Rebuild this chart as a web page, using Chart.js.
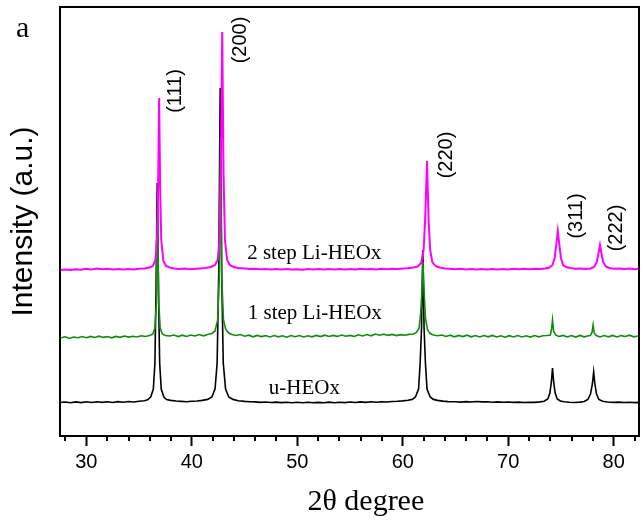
<!DOCTYPE html>
<html>
<head>
<meta charset="utf-8">
<script src="https://cdn.jsdelivr.net/npm/chart.js@4.4.1/dist/chart.umd.min.js"></script>
<style>
  html, body { margin: 0; padding: 0; background: #fff; }
</style>
</head>
<body>
<canvas id="xrd" width="641" height="522"></canvas>
<script>
// [2theta, intensity above own baseline]
var uHEOx = [
  [27.5,0.5],[28,1],[28.5,0.2],[29,1.1],[29.5,0.4],[30,1.2],[30.5,0.5],[31,1.3],[31.5,0.6],[32,1.2],
  [32.5,0.5],[33,1.4],[33.5,0.8],[34,1.5],[34.5,1],[35,1.8],[35.5,2.3],[35.8,3.2],[36.1,6],[36.35,14],
  [36.5,40],[36.6,110],[36.72,220],[36.84,110],[36.95,40],[37.1,14],[37.35,6],[37.6,3.5],[38,2.6],[38.5,2],
  [39,1.6],[39.5,1.3],[40,1.7],[40.5,2],[41,2.6],[41.5,3.6],[41.9,6],[42.2,14],[42.4,40],[42.55,130],
  [42.69,315],[42.83,130],[42.98,40],[43.2,14],[43.5,6],[43.9,3.6],[44.4,2.3],[45,1.6],[45.5,1.2],[46,1.1],
  [46.5,0.6],[47,1],[47.5,0.5],[48,0.9],[48.5,0.4],[49,0.8],[49.5,0.3],[50,0.8],[50.5,0.2],[51,0.7],
  [51.5,0.2],[52,0.6],[52.5,0.3],[53,0.9],[53.5,0.3],[54,0.8],[54.5,0.4],[55,1],[55.5,0.5],[56,1.1],
  [56.5,0.6],[57,1.2],[57.5,0.7],[58,1.3],[58.5,1],[59,1.5],[59.5,1.7],[60,2.1],[60.5,2.7],[60.9,3.6],
  [61.2,6],[61.5,14],[61.65,40],[61.78,75],[61.9,153],[62.02,75],[62.15,40],[62.3,14],[62.6,6],[62.9,3.6],
  [63.3,2.6],[63.8,1.9],[64.3,1.4],[65,1.2],[65.5,0.9],[66,1.4],[66.5,1],[67,1.5],[67.5,1.1],[68,1.3],
  [68.5,0.8],[69,1.1],[69.5,0.7],[70,1],[70.5,0.6],[71,0.9],[71.5,0.5],[72,0.8],[72.5,0.6],[73,1.1],
  [73.4,1.8],[73.75,4],[73.95,10],[74.1,22],[74.2,35],[74.3,22],[74.45,10],[74.65,4],[74.95,2],[75.3,1.3],
  [75.8,0.8],[76.3,0.5],[76.8,0.9],[77.2,1.5],[77.55,3.5],[77.8,9],[77.98,19],[78.1,31],[78.22,19],[78.37,9],
  [78.6,3.5],[78.95,1.7],[79.4,1],[80,0.6],[80.5,0.9],[81,0.5],[81.5,0.8],[82,0.4],[82.4,0.6]
];
var step1 = [
  [27.5,0],[28,1.2],[28.4,-0.5],[28.8,1],[29.2,0.2],[29.6,1.5],[30,0.3],[30.4,1.6],[30.8,0.5],[31.2,1.8],
  [31.6,0.6],[32,1.4],[32.4,0.2],[32.8,1.6],[33.2,0.7],[33.6,2],[34,0.9],[34.4,1.8],[34.8,1],[35.2,2.2],
  [35.6,1.5],[36,2.5],[36.3,4],[36.5,10],[36.64,35],[36.75,130],[36.86,35],[37,10],[37.2,4],[37.5,2.5],
  [37.9,2],[38.3,3],[38.7,1.4],[39.1,2.8],[39.5,1.5],[39.9,3],[40.3,2],[40.7,3.5],[41.1,2.2],[41.5,3.5],
  [41.9,4.5],[42.2,7],[42.45,18],[42.6,60],[42.72,200],[42.84,60],[43,18],[43.2,9],[43.5,5],[43.8,3.5],
  [44.2,2.5],[44.6,3.5],[45,1.8],[45.4,2.8],[45.8,1.2],[46.2,2.6],[46.6,1.4],[47,2.4],[47.4,1],[47.8,2.5],
  [48.2,1.2],[48.6,2.2],[49,0.8],[49.4,2.4],[49.8,1.3],[50.2,2.5],[50.6,1],[51,2.2],[51.4,1.2],[51.8,2.6],
  [52.2,1.4],[52.6,2.8],[53,1.5],[53.4,2.6],[53.8,1.6],[54.2,3],[54.6,1.8],[55,2.6],[55.4,1.5],[55.8,3.2],
  [56.2,2],[56.6,3.4],[57,2.2],[57.4,4],[57.8,2.8],[58.2,3.8],[58.6,2.6],[59,3.6],[59.4,2.4],[59.8,3.4],
  [60.2,2.8],[60.6,3.6],[61,4],[61.3,5.5],[61.55,10],[61.7,25],[61.81,45],[61.92,76],[62.03,45],[62.15,20],
  [62.35,8],[62.6,4.5],[62.9,3],[63.3,2.2],[63.7,3],[64.1,1.6],[64.5,2.8],[64.9,1.2],[65.3,2.6],[65.7,1.4],
  [66.1,2.8],[66.5,1.2],[66.9,2.5],[67.3,1],[67.7,2.4],[68.1,1.2],[68.5,2.6],[68.9,1],[69.3,2.2],[69.7,0.8],
  [70.1,2.3],[70.5,1],[70.9,2.5],[71.3,1.1],[71.7,2.2],[72.1,0.9],[72.5,2.4],[72.9,1.2],[73.3,2.3],[73.7,2.5],
  [74,3],[74.1,8],[74.2,18],[74.3,7],[74.5,3],[74.8,1.5],[75.2,2.6],[75.6,1],[76,2.4],[76.4,0.9],
  [76.8,2.6],[77.2,1.2],[77.6,2.2],[77.8,2.5],[77.95,6],[78.05,13],[78.15,5],[78.35,2.5],[78.7,1],[79.1,2.4],
  [79.5,1.2],[79.9,2.6],[80.3,1],[80.7,2.4],[81.1,1.5],[81.5,2.8],[81.9,1.2],[82.4,2.2]
];
var step2 = [
  [27.5,0],[28,0.6],[28.5,0.1],[29,0.8],[29.5,0.3],[30,1.2],[30.5,0.6],[31,1.4],[31.5,0.8],[32,1.2],
  [32.5,0.5],[33,1],[33.5,0.4],[34,0.9],[34.5,0.6],[35,1.2],[35.5,1.6],[36,2.5],[36.3,4],[36.55,10],
  [36.72,35],[36.8,80],[36.9,172],[37,80],[37.1,30],[37.3,9],[37.55,4],[37.9,2.5],[38.3,1.6],[38.8,1],
  [39.3,1.4],[39.8,0.8],[40.3,1.2],[40.8,1.6],[41.3,2],[41.8,3],[42.2,5],[42.45,10],[42.62,30],[42.75,95],
  [42.88,238],[43.01,95],[43.14,30],[43.35,10],[43.6,5],[43.95,3],[44.4,2],[45,1.4],[45.5,1],[46,1.3],
  [46.5,0.7],[47,1.1],[47.5,0.5],[48,0.9],[48.5,0.4],[49,1],[49.5,0.5],[50,0.8],[50.5,0.3],[51,0.9],
  [51.5,0.4],[52,1],[52.5,0.5],[53,0.9],[53.5,0.4],[54,1.1],[54.5,0.6],[55,1],[55.5,0.5],[56,1.2],
  [56.5,0.7],[57,1.1],[57.5,0.6],[58,1.3],[58.5,0.8],[59,1.2],[59.5,1],[60,1.5],[60.5,1.8],[61,2.4],
  [61.4,3.5],[61.75,7],[61.98,20],[62.12,50],[62.3,109],[62.45,50],[62.6,20],[62.8,8],[63.1,4],[63.5,2.5],
  [64,1.6],[64.5,1.2],[65,0.8],[65.5,1.2],[66,0.6],[66.5,1.1],[67,0.5],[67.5,1],[68,0.4],[68.5,1],
  [69,0.5],[69.5,1.1],[70,0.6],[70.5,1.2],[71,0.7],[71.5,1.3],[72,0.8],[72.5,1.2],[73,1],[73.5,1.5],
  [73.9,2.5],[74.2,5],[74.4,12],[74.55,25],[74.7,39],[74.85,25],[75,12],[75.2,5],[75.5,3],[75.9,2],
  [76.3,1.2],[76.8,1.6],[77.3,1],[77.8,1.5],[78.15,3],[78.4,8],[78.55,16],[78.7,25],[78.85,16],[79,8],
  [79.25,3.5],[79.6,2],[80,1.2],[80.5,1.6],[81,0.9],[81.5,1.4],[82,0.8],[82.4,1.2]
];

var sampleNames = ["u-HEOx", "1 step Li-HEOx", "2 step Li-HEOx"];
var offsets = [33, 98, 166];
var lineColors = ["#000000", "#138a13", "#ff00ff"];

var hklLabels = ["(111)", "(200)", "(220)", "(311)", "(222)"];
var hklTheta = [38.43, 44.58, 64.19, 76.5, 80.28];
var hklY = [345, 396, 281, 220, 208];

var nameTheta = [47.3, 45.3, 45.25];
var nameY = [48, 123, 183];

var xTicks = [28,30,32,34,36,38,40,42,44,46,48,50,52,54,56,58,60,62,64,66,68,70,72,74,76,78,80,82];

var series = [uHEOx, step1, step2];

function shifted(arr, off){
  return arr.map(function(p){ return {x: p[0], y: p[1] + off}; });
}

var decor = {
  id: 'decor',
  afterDraw: function(chart){
    var ctx = chart.ctx, a = chart.chartArea, xs = chart.scales.x, ys = chart.scales.y;
    ctx.save();
    ctx.strokeStyle = '#000';
    ctx.lineWidth = 2;
    ctx.strokeRect(a.left, a.top, a.right - a.left, a.bottom - a.top);
    // minor ticks
    xTicks.forEach(function(v){
      if (v % 10 !== 0){
        var px = Math.round(xs.getPixelForValue(v));
        ctx.beginPath();
        ctx.moveTo(px, a.bottom);
        ctx.lineTo(px, a.bottom + 5);
        ctx.stroke();
      }
    });
    ctx.fillStyle = '#000';
    // peak indices
    ctx.font = '20px "Liberation Sans", Arial, sans-serif';
    ctx.textAlign = 'center';
    ctx.textBaseline = 'middle';
    hklLabels.forEach(function(t, i){
      ctx.save();
      ctx.translate(xs.getPixelForValue(hklTheta[i]), ys.getPixelForValue(hklY[i]));
      ctx.rotate(-Math.PI / 2);
      ctx.fillText(t, 0, 0);
      ctx.restore();
    });
    // x title (sits a little right of centre in the original)
    ctx.font = '30px "Liberation Serif", "Times New Roman", serif';
    ctx.fillText('2θ degree', xs.getPixelForValue(56.5), 502);
    // sample names
    ctx.font = '21px "Liberation Serif", "Times New Roman", serif';
    ctx.textAlign = 'left';
    sampleNames.forEach(function(t, i){
      ctx.fillText(t, xs.getPixelForValue(nameTheta[i]), ys.getPixelForValue(nameY[i]));
    });
    // panel letter
    ctx.font = '30px "Liberation Serif", "Times New Roman", serif';
    ctx.textBaseline = 'alphabetic';
    ctx.fillText('a', 16, 37);
    ctx.restore();
  }
};

var datasets = series.map(function(s, i){
  return {
    label: sampleNames[i],
    data: shifted(s, offsets[i]),
    borderColor: lineColors[i],
    borderWidth: i == 2 ? 2 : 1.6,
    pointRadius: 0,
    tension: 0,
    fill: false,
    order: 2 - i
  };
});

new Chart(document.getElementById('xrd').getContext('2d'), {
  type: 'line',
  data: { datasets: datasets },
  options: {
    responsive: false,
    animation: false,
    layout: { padding: { top: 7, right: 2, left: 0, bottom: 0 } },
    plugins: { legend: { display: false }, tooltip: { enabled: false } },
    scales: {
      x: {
        type: 'linear',
        min: 27.5,
        max: 82.4,
        afterBuildTicks: function(scale){
          scale.ticks = xTicks.map(function(v){ return {value: v}; });
        },
        afterFit: function(scale){ scale.height = 86; },
        ticks: {
          autoSkip: false,
          maxRotation: 0,
          padding: 4,
          color: '#000',
          font: { family: '"Liberation Sans", Arial, sans-serif', size: 20 },
          callback: function(v){ return v % 10 === 0 ? v : ''; }
        },
        grid: {
          display: true,
          drawOnChartArea: false,
          drawTicks: true,
          tickLength: 10,
          tickWidth: 2,
          tickColor: function(c){ return (c.tick && c.tick.value % 10 === 0) ? '#000' : 'rgba(0,0,0,0)'; }
        },
        border: { display: true, color: '#000', width: 2 },
        title: { display: false }
      },
      y: {
        type: 'linear',
        min: 0,
        max: 429,
        afterFit: function(scale){ scale.width = 60; },
        ticks: { display: false },
        grid: { display: false },
        border: { display: true, color: '#000', width: 2 },
        title: {
          display: true,
          text: 'Intensity (a.u.)',
          color: '#000',
          padding: { top: 6, bottom: 0 },
          font: { family: '"Liberation Sans", Arial, sans-serif', size: 30 }
        }
      }
    }
  },
  plugins: [decor]
});
</script>
</body>
</html>
